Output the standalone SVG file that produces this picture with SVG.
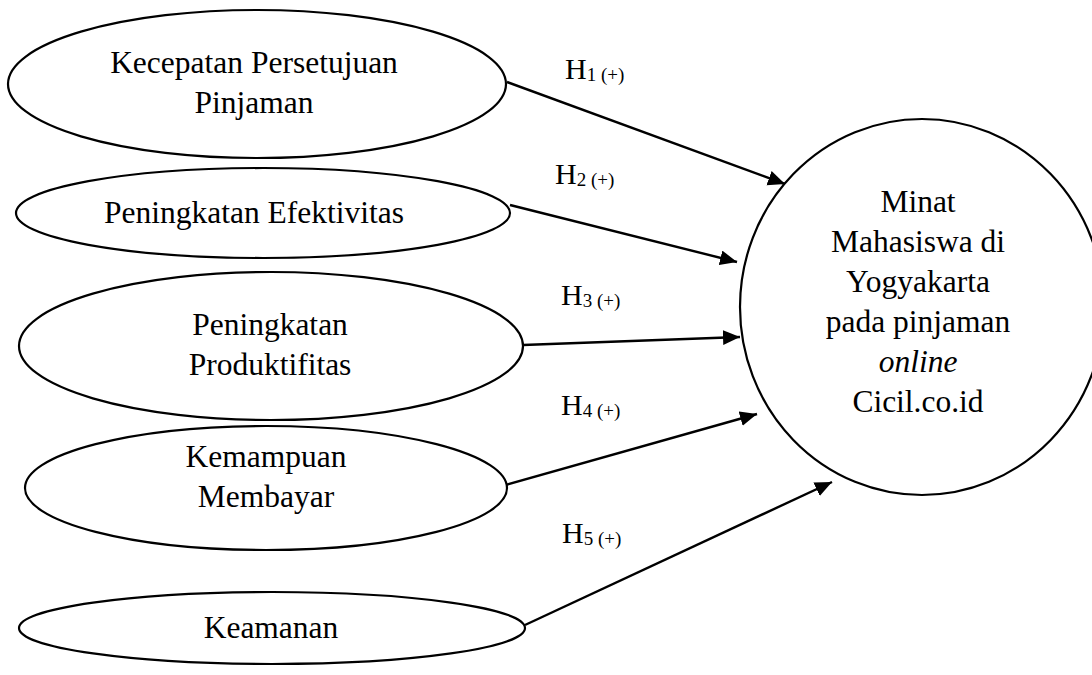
<svg xmlns="http://www.w3.org/2000/svg" width="1092" height="675" viewBox="0 0 1092 675">
<style>
.node{fill:#fff;stroke:#000;stroke-width:2.2}
.t{font-family:"Liberation Serif","Times New Roman",serif;font-size:31.5px;fill:#000;text-anchor:middle}
.h{font-family:"Liberation Serif","Times New Roman",serif;font-size:30px;fill:#000}
.s{font-size:19px}
.edge{stroke:#000;stroke-width:2.4;fill:none;marker-end:url(#arr)}
</style>
<defs>
<marker id="arr" markerUnits="userSpaceOnUse" markerWidth="18" markerHeight="16" refX="17" refY="7.5" orient="auto">
<path d="M0,0 L17,7.5 L0,15 z" fill="#000"/>
</marker>
</defs>
<rect width="1092" height="675" fill="#fff"/>
<g id="edges">
<line class="edge" x1="507" y1="82" x2="785" y2="184"/>
<line class="edge" x1="510" y1="205" x2="737" y2="262"/>
<line class="edge" x1="523" y1="345" x2="740" y2="337"/>
<line class="edge" x1="502" y1="486" x2="757" y2="414"/>
<line class="edge" x1="525" y1="625" x2="832" y2="482"/>
</g>
<g id="n1">
<ellipse class="node" cx="257" cy="84" rx="249" ry="74"/>
<text class="t" x="254" y="73">Kecepatan Persetujuan</text>
<text class="t" x="254" y="113">Pinjaman</text>
</g>
<g id="n2">
<ellipse class="node" cx="263" cy="213" rx="247" ry="45"/>
<text class="t" x="254" y="223">Peningkatan Efektivitas</text>
</g>
<g id="n3">
<ellipse class="node" cx="271" cy="346" rx="252" ry="74"/>
<text class="t" x="270" y="335">Peningkatan</text>
<text class="t" x="270" y="375">Produktifitas</text>
</g>
<g id="n4">
<ellipse class="node" cx="266" cy="488" rx="241" ry="62"/>
<text class="t" x="266" y="467">Kemampuan</text>
<text class="t" x="266" y="507">Membayar</text>
</g>
<g id="n5">
<ellipse class="node" cx="272" cy="628" rx="253" ry="36"/>
<text class="t" x="271" y="638">Keamanan</text>
</g>
<g id="n6">
<ellipse class="node" cx="922" cy="307" rx="182" ry="188"/>
<text class="t" x="918" y="212">Minat</text>
<text class="t" x="918" y="252">Mahasiswa di</text>
<text class="t" x="918" y="292">Yogyakarta</text>
<text class="t" x="918" y="332">pada pinjaman</text>
<text class="t" x="918" y="372" font-style="italic">online</text>
<text class="t" x="918" y="412">Cicil.co.id</text>
</g>
<g id="labels">
<text class="h" x="565" y="79">H<tspan class="s" dy="2">1 (+)</tspan></text>
<text class="h" x="555" y="184">H<tspan class="s" dy="2">2 (+)</tspan></text>
<text class="h" x="561" y="305">H<tspan class="s" dy="2">3 (+)</tspan></text>
<text class="h" x="561" y="415">H<tspan class="s" dy="2">4 (+)</tspan></text>
<text class="h" x="562" y="543">H<tspan class="s" dy="2">5 (+)</tspan></text>
</g>
</svg>
